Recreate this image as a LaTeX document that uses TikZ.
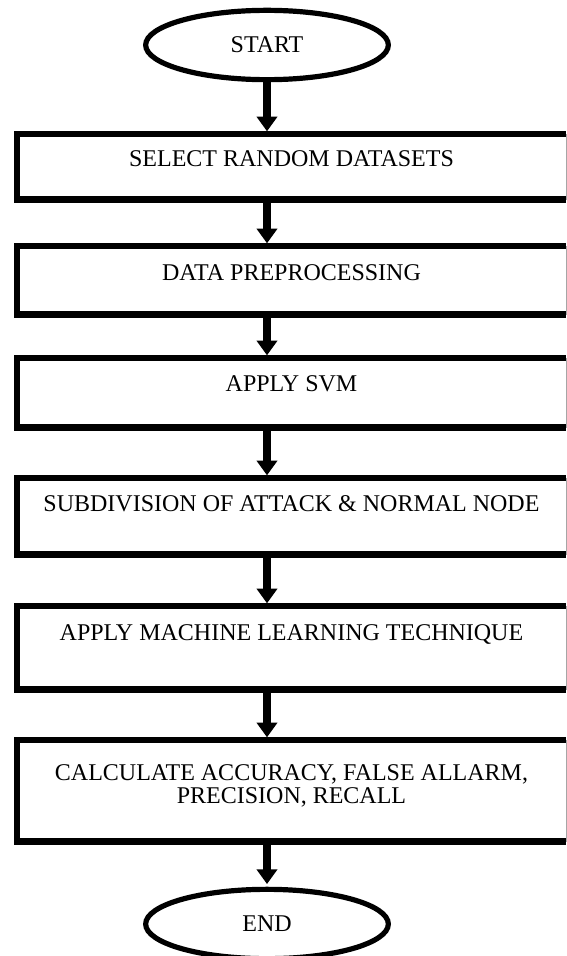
\documentclass[tikz,border=0pt]{standalone}
\usepackage{fontspec}
\setmainfont{Liberation Serif}
\usetikzlibrary{arrows.meta,positioning,shapes.geometric}
\tikzset{
  term/.style ={ellipse, draw, line width=3.9pt, minimum width=182pt, minimum height=52pt,
                inner sep=0pt, font=\fontsize{18}{17.5}\selectfont},
  box/.style  ={rectangle, anchor=north, minimum width=411.75pt, inner sep=0pt,
                align=center, font=\fontsize{18}{17.5}\selectfont},
  edge/.style ={line width=4.8pt, line join=miter},
  rim/.style  ={line width=0.8pt, draw=black!35},
  flow/.style ={->, >={Triangle[width=15pt,length=11pt]}, line width=5.4pt, shorten >=2pt},
}
\begin{document}
\begin{tikzpicture}[x=0.75pt,y=-0.75pt]
  \useasboundingbox (0,0) rectangle (567,956);
  \node[term](start) at (267,45){START};
  \node[box, text height=24pt,    text depth=24.75pt](select) at (291.5,134){SELECT RANDOM DATASETS};
  \node[box, text height=25.5pt,  text depth=25.5pt](prep) at (291.5,246){DATA PREPROCESSING};
  \node[box, text height=24.75pt, text depth=27pt](svm) at (291.5,358){APPLY SVM};
  \node[box, text height=24.75pt, text depth=32.25pt](split) at (291.5,478){SUBDIVISION OF ATTACK \& NORMAL NODE};
  \node[box, text height=25.5pt,  text depth=36.75pt](learn) at (291.5,606){APPLY MACHINE LEARNING TECHNIQUE};
  \node[box, text height=47.75pt, text depth=28pt](calc) at (291.5,740){CALCULATE ACCURACY, FALSE ALLARM,\\PRECISION, RECALL};
  \node[term](stop) at (267,924){END};
  % box outlines: heavy on three sides, faint on the right
  \foreach \b in {select,prep,svm,split,learn,calc}{
    \draw[edge](\b.north east) -- (\b.north west) -- (\b.south west) -- (\b.south east);
    \draw[rim](\b.north east) -- (\b.south east);
  }
  \draw[flow](start) -- (start |- select.north);
  \draw[flow](start |- select.south) -- (start |- prep.north);
  \draw[flow](start |- prep.south) -- (start |- svm.north);
  \draw[flow](start |- svm.south) -- (start |- split.north);
  \draw[flow](start |- split.south) -- (start |- learn.north);
  \draw[flow](start |- learn.south) -- (start |- calc.north);
  \draw[flow](start |- calc.south) -- (stop);
\end{tikzpicture}
\end{document}
